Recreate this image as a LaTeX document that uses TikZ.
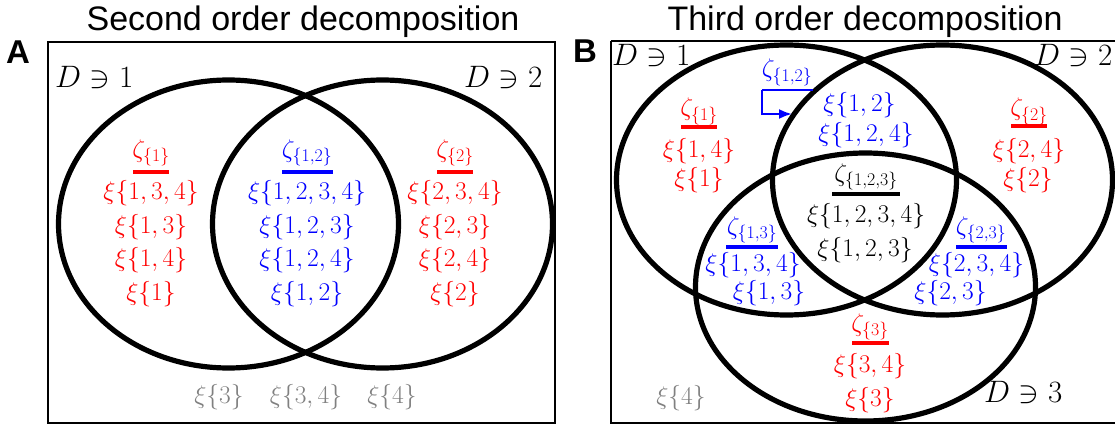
\RequirePackage{fix-cm}
\documentclass[tikz,border=0pt]{standalone}
\usepackage{fontspec}
\newfontfamily\titlefont{Liberation Sans}
\usetikzlibrary{arrows.meta}
\definecolor{cred}{RGB}{255,0,0}
\definecolor{cblue}{RGB}{0,0,255}
\definecolor{cgray}{RGB}{128,128,128}
\tikzset{
 lab/.style={font=\fontsize{25.5}{30}\selectfont, anchor=base, inner sep=0pt},
 dlab/.style={font=\fontsize{31}{36}\selectfont, anchor=base west, inner sep=0pt},
 ttl/.style={font=\titlefont\fontsize{34}{40}\selectfont, anchor=base, inner sep=0pt},
 panel/.style={font=\titlefont\fontsize{33}{38}\selectfont\bfseries, anchor=base west, inner sep=0pt},
 venn/.style={line width=5.2pt},
 frame/.style={line width=2.8pt},
 zbar/.style={line width=3.5pt},
}
\begin{document}
\begin{tikzpicture}[x=1pt,y=-1pt]
\useasboundingbox (0,0) rectangle (1115,425);
% ---------- Panel A ----------
\node[ttl] (tA) at (303,31) {Second order decomposition};
\node[panel] (pA) at (6,64) {A};
\draw[frame] (48,42) rectangle (555,423);
\draw[venn] (228.5,224) ellipse [x radius=170, y radius=144];
\draw[venn] (382.5,224) ellipse [x radius=170, y radius=144];
\node[dlab] (dA1) at (55,88) {$D\ni 1$};
\node[dlab] (dA2) at (464,88) {$D\ni 2$};
% left (red)
\node[lab,cred] (aZ1) at (151,157) {$\zeta_{\{1\}}$};
\draw[zbar,cred] (133,172) -- (169,172);
\node[lab,cred] (aL1) at (151,199.5) {$\xi\{1,3,4\}$};
\node[lab,cred] (aL2) at (151,233.1) {$\xi\{1,3\}$};
\node[lab,cred] (aL3) at (151,266.7) {$\xi\{1,4\}$};
\node[lab,cred] (aL4) at (151,300.3) {$\xi\{1\}$};
% middle (blue)
\node[lab,cblue] (aZ12) at (307,157) {$\zeta_{\{1,2\}}$};
\draw[zbar,cblue] (282,172) -- (333,172);
\node[lab,cblue] (aM1) at (307,199.5) {$\xi\{1,2,3,4\}$};
\node[lab,cblue] (aM2) at (307,233.1) {$\xi\{1,2,3\}$};
\node[lab,cblue] (aM3) at (307,266.7) {$\xi\{1,2,4\}$};
\node[lab,cblue] (aM4) at (307,300.3) {$\xi\{1,2\}$};
% right (red)
\node[lab,cred] (aZ2) at (455,157) {$\zeta_{\{2\}}$};
\draw[zbar,cred] (437,172) -- (473,172);
\node[lab,cred] (aR1) at (455,199.5) {$\xi\{2,3,4\}$};
\node[lab,cred] (aR2) at (455,233.1) {$\xi\{2,3\}$};
\node[lab,cred] (aR3) at (455,266.7) {$\xi\{2,4\}$};
\node[lab,cred] (aR4) at (455,300.3) {$\xi\{2\}$};
% outside (gray)
\node[lab,cgray] (aO1) at (219,403) {$\xi\{3\}$};
\node[lab,cgray] (aO2) at (306,403) {$\xi\{3,4\}$};
\node[lab,cgray] (aO3) at (392,403) {$\xi\{4\}$};
% ---------- Panel B ----------
\node[ttl] (tB) at (865,31) {Third order decomposition};
\node[panel] (pB) at (573,63) {B};
\draw[frame] (611,41) -- (1135,41);
\draw[frame] (611,41) -- (611,423) -- (1135,423);
\draw[venn] (786.5,180) ellipse [x radius=170, y radius=135];
\draw[venn] (942.5,180) ellipse [x radius=170, y radius=135];
\draw[venn] (865.5,287) ellipse [x radius=170, y radius=134];
\node[dlab] (dB1) at (612,66) {$D\ni 1$};
\node[dlab] (dB2) at (1034,66) {$D\ni 2$};
\node[dlab] (dB3) at (984,402) {$D\ni 3$};
% 1,2 (blue) with bracket arrow
\node[lab,cblue] (bZ12) at (787,77) {$\zeta_{\{1,2\}}$};
\coordinate (bBarR) at (813,90);
\coordinate (bBarL) at (762,90);
\coordinate (bTip) at (792,114);
\draw[cblue,line width=2.6pt] (bBarR) -- (bBarL);
\draw[cblue,line width=2.2pt,-{Latex[length=13pt,width=10pt]}] (bBarL) |- (bTip);
\node[lab,cblue] (b12a) at (859.5,111) {$\xi\{1,2\}$};
\node[lab,cblue] (b12b) at (866,141) {$\xi\{1,2,4\}$};
% 1 (red)
\node[lab,cred] (bZ1) at (699,116) {$\zeta_{\{1\}}$};
\draw[zbar,cred] (681,127) -- (717,127);
\node[lab,cred] (b1a) at (699,157) {$\xi\{1,4\}$};
\node[lab,cred] (b1b) at (699,186) {$\xi\{1\}$};
% 2 (red)
\node[lab,cred] (bZ2) at (1029,116) {$\zeta_{\{2\}}$};
\draw[zbar,cred] (1011,126) -- (1047,126);
\node[lab,cred] (b2a) at (1029,157) {$\xi\{2,4\}$};
\node[lab,cred] (b2b) at (1028,186) {$\xi\{2\}$};
% 1,2,3 (black)
\node[lab] (bZ123) at (866,181) {$\zeta_{\{1,2,3\}}$};
\draw[zbar] (832,194) -- (900,194);
\node[lab] (b123a) at (866,222.5) {$\xi\{1,2,3,4\}$};
\node[lab] (b123b) at (865,256) {$\xi\{1,2,3\}$};
% 1,3 (blue)
\node[lab,cblue] (bZ13) at (752,234) {$\zeta_{\{1,3\}}$};
\draw[zbar,cblue] (726,247) -- (778,247);
\node[lab,cblue] (b13a) at (753,271) {$\xi\{1,3,4\}$};
\node[lab,cblue] (b13b) at (769,299) {$\xi\{1,3\}$};
% 2,3 (blue)
\node[lab,cblue] (bZ23) at (981,234) {$\zeta_{\{2,3\}}$};
\draw[zbar,cblue] (956,247) -- (1007,247);
\node[lab,cblue] (b23a) at (976.5,271) {$\xi\{2,3,4\}$};
\node[lab,cblue] (b23b) at (950.5,299) {$\xi\{2,3\}$};
% 3 (red)
\node[lab,cred] (bZ3) at (870,331) {$\zeta_{\{3\}}$};
\draw[zbar,cred] (852,343) -- (889,343);
\node[lab,cred] (b3a) at (870,372) {$\xi\{3,4\}$};
\node[lab,cred] (b3b) at (870,406) {$\xi\{3\}$};
% outside (gray)
\node[lab,cgray] (b4) at (681,404) {$\xi\{4\}$};
\end{tikzpicture}
\end{document}
